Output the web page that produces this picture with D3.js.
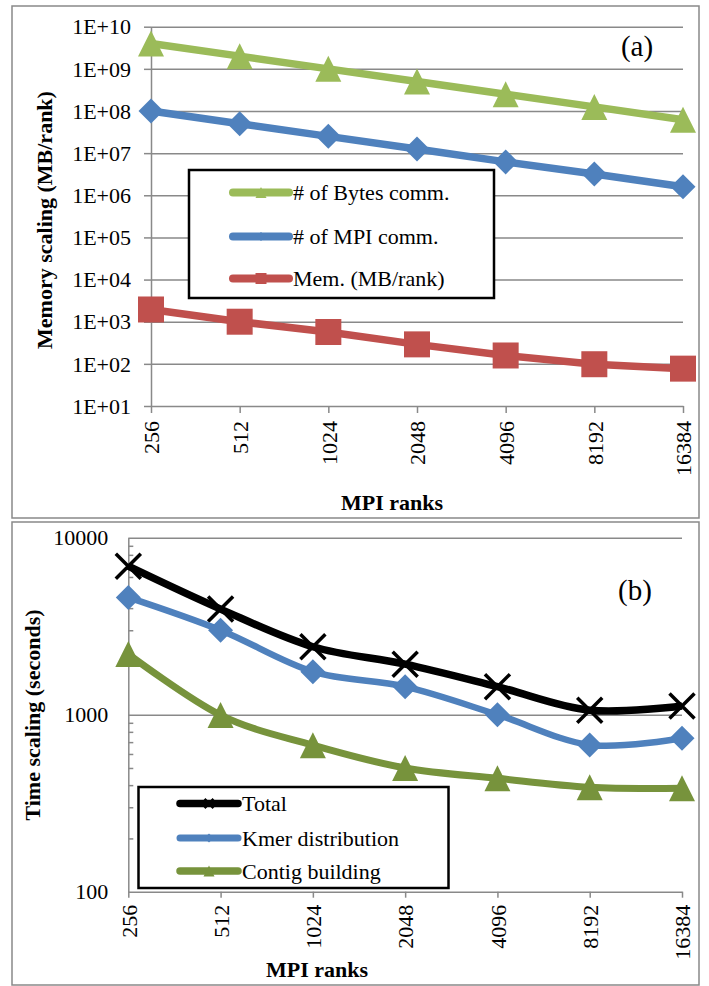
<!DOCTYPE html>
<html>
<head>
<meta charset="utf-8">
<script src="https://cdn.jsdelivr.net/npm/d3@7"></script>
<style>
  body { margin: 0; background: #fff; }
  text { font-family: 'Liberation Serif', 'Times New Roman', serif; fill: #000; }
</style>
</head>
<body>
<script>
// valeurs
const ranks = ["256", "512", "1024", "2048", "4096", "8192", "16384"]

const bytesComm = [4e9, 2e9, 1e9, 5e8, 2.5e8, 1.25e8, 6.2e7]
const mpiComm = [1e8, 5e7, 2.5e7, 1.25e7, 6.2e6, 3.2e6, 1.6e6]
const memPerRank = [1950, 1000, 570, 290, 158, 98, 77]

const totalTime = [6900, 3950, 2420, 1930, 1440, 1060, 1120]
const kmerTime = [4600, 3000, 1750, 1440, 1000, 675, 736]
const contigTime = [2200, 995, 673, 500, 437, 389, 384]

const memTicks = [1e1, 1e2, 1e3, 1e4, 1e5, 1e6, 1e7, 1e8, 1e9, 1e10]
const timeTicks = [100, 1000, 10000]

const seriesA = [
    {name: "# of Bytes comm.", values: bytesComm, color: "#9BBB59", shape: "tri"},
    {name: "# of MPI comm.", values: mpiComm, color: "#4F81BD", shape: "diamond"},
    {name: "Mem. (MB/rank)", values: memPerRank, color: "#C0504D", shape: "square"}
]
const seriesB = [
    {name: "Total", values: totalTime, color: "#000000", shape: "x"},
    {name: "Kmer distribution", values: kmerTime, color: "#4F81BD", shape: "diamond"},
    {name: "Contig building", values: contigTime, color: "#77933C", shape: "tri"}
]

// formes des marqueurs (taille = largeur^2)
const shapes = {
    tri: {draw(c, s) { const r = Math.sqrt(s) / 2; c.moveTo(0, -r); c.lineTo(r, r); c.lineTo(-r, r); c.closePath() }},
    diamond: {draw(c, s) { const r = Math.sqrt(s) / 2; c.moveTo(0, -r); c.lineTo(r, 0); c.lineTo(0, r); c.lineTo(-r, 0); c.closePath() }},
    square: d3.symbolSquare,
    x: {draw(c, s) { const r = Math.sqrt(s) / 2; c.moveTo(-r, -r); c.lineTo(r, r); c.moveTo(-r, r); c.lineTo(r, -r) }}
}
const markSize = {tri: 26 * 26, diamond: 25 * 25, square: 26 * 26, x: 25 * 25}
const legendSize = {tri: 11 * 11, diamond: 9 * 9, square: 11 * 11, x: 9 * 9}

const gray = "#898989"
const svg = d3.select("body").append("svg").attr("width", 709).attr("height", 986)

// cadres des deux panneaux
svg.append("rect").attr("x", 12).attr("y", 6).attr("width", 687).attr("height", 512)
    .attr("fill", "none").attr("stroke", gray).attr("stroke-width", 1.5)
svg.append("rect").attr("x", 12).attr("y", 522).attr("width", 687).attr("height", 463)
    .attr("fill", "none").attr("stroke", gray).attr("stroke-width", 1.5)

function styleAxis(g) {
    g.selectAll(".domain").attr("stroke", gray).attr("stroke-width", 1.5)
    g.selectAll(".tick line").attr("stroke", gray).attr("stroke-width", 1.5)
    g.selectAll("text").style("font-size", "22px").attr("fill", "#000")
}

function rotateLabels(g, off) {
    g.selectAll("text")
        .attr("transform", "rotate(-90)")
        .attr("text-anchor", "end")
        .attr("x", -off)
        .attr("y", 0)
        .attr("dy", "0.35em")
}

function drawSeries(series, x, y, curve, widths) {
    series.forEach((s, k) => {
        const line = d3.line().x((d, i) => x(ranks[i])).y(d => y(d)).curve(curve)
        svg.append("path").attr("d", line(s.values))
            .attr("fill", "none").attr("stroke", s.color)
            .attr("stroke-width", widths[k]).attr("stroke-linejoin", "round")
        svg.append("g").selectAll("path")
            .data(s.values)
            .join("path")
            .attr("transform", (d, i) => `translate(${x(ranks[i])},${y(d)})`)
            .attr("d", d3.symbol().type(shapes[s.shape]).size(markSize[s.shape]))
            .attr("fill", s.shape == "x" ? "none" : s.color)
            .attr("stroke", s.shape == "x" ? s.color : "none")
            .attr("stroke-width", 3.5)
    })
}

function drawLegend(series, box, rows, x0, x1, widths) {
    svg.append("rect").attr("x", box[0]).attr("y", box[1]).attr("width", box[2]).attr("height", box[3])
        .attr("fill", "#fff").attr("stroke", "#000").attr("stroke-width", 2.5)
    series.forEach((s, k) => {
        svg.append("line").attr("x1", x0).attr("x2", x1).attr("y1", rows[k]).attr("y2", rows[k])
            .attr("stroke", s.color).attr("stroke-width", widths[k]).attr("stroke-linecap", "round")
        svg.append("path")
            .attr("transform", `translate(${(x0 + x1) / 2},${rows[k]})`)
            .attr("d", d3.symbol().type(shapes[s.shape]).size(legendSize[s.shape]))
            .attr("fill", s.shape == "x" ? "none" : s.color)
            .attr("stroke", s.shape == "x" ? s.color : "none")
            .attr("stroke-width", 2.5)
        svg.append("text").attr("x", x1 + 4).attr("y", rows[k]).attr("dy", "0.35em")
            .style("font-size", "22px").text(s.name)
    })
}

// ---------- panneau (a) ----------
const xa = d3.scalePoint().domain(ranks).range([151, 683])
const ya = d3.scaleLog().domain([1e1, 1e10]).range([406, 26.7])

svg.append("g").attr("transform", "translate(151,0)")
    .call(d3.axisLeft(ya).tickValues(memTicks.slice(1)).tickSize(-532).tickFormat(""))
    .call(g => g.select(".domain").remove())
    .call(g => g.selectAll("line").attr("stroke", gray).attr("stroke-width", 1.5))

svg.append("g").attr("transform", "translate(151,0)")
    .call(d3.axisLeft(ya).tickValues(memTicks).tickSize(7).tickSizeOuter(0).tickPadding(13)
        .tickFormat(d => "1E+" + String(Math.round(Math.log10(d))).padStart(2, "0")))
    .call(styleAxis)
    .call(g => g.selectAll("text").attr("dy", "0.33em"))

svg.append("g").attr("transform", "translate(0,406)")
    .call(d3.axisBottom(xa).tickSize(7).tickSizeOuter(0))
    .call(styleAxis)
    .call(g => rotateLabels(g, 15))

drawSeries(seriesA, xa, ya, d3.curveLinear, [7.5, 7.5, 7.5])
drawLegend(seriesA, [189, 170, 305, 128], [192.5, 236.5, 278.5], 233, 289, [8, 8, 8])

svg.append("text").attr("transform", "translate(51.5,220) rotate(-90)").attr("text-anchor", "middle")
    .style("font-size", "22px").style("font-weight", "bold").text("Memory scaling (MB/rank)")
svg.append("text").attr("x", 392).attr("y", 510).attr("text-anchor", "middle")
    .style("font-size", "22px").style("font-weight", "bold").text("MPI ranks")
svg.append("text").attr("x", 637).attr("y", 56).attr("text-anchor", "middle")
    .style("font-size", "29px").text("(a)")

// ---------- panneau (b) ----------
const xb = d3.scalePoint().domain(ranks).range([128.3, 682])
const yb = d3.scaleLog().domain([100, 10000]).range([891.7, 537.7])

svg.append("g").attr("transform", "translate(128.3,0)")
    .call(d3.axisLeft(yb).tickValues(timeTicks.slice(1)).tickSize(-553.7).tickFormat(""))
    .call(g => g.select(".domain").remove())
    .call(g => g.selectAll("line").attr("stroke", gray).attr("stroke-width", 1.5))

// petites graduations vers l'intérieur
svg.append("g").attr("transform", "translate(128.3,0)")
    .call(d3.axisRight(yb).tickValues(yb.ticks().filter(d => !timeTicks.includes(d))).tickSize(5).tickFormat(""))
    .call(g => g.select(".domain").remove())
    .call(g => g.selectAll("line").attr("stroke", gray).attr("stroke-width", 1.5))

svg.append("g").attr("transform", "translate(128.3,0)")
    .call(d3.axisLeft(yb).tickValues(timeTicks).tickSize(0).tickSizeOuter(0).tickPadding(20).tickFormat(d3.format("d")))
    .call(styleAxis)
    .call(g => g.selectAll("text").attr("dy", "0.33em"))

svg.append("g").attr("transform", "translate(0,891.7)")
    .call(d3.axisBottom(xb).tickSize(6).tickSizeOuter(0))
    .call(styleAxis)
    .call(g => rotateLabels(g, 13))

drawSeries(seriesB, xb, yb, d3.curveCardinal.tension(0), [7.5, 6.5, 7])
drawLegend(seriesB, [138.5, 787, 310, 101], [803.5, 838, 871], 180, 238, [7.5, 7, 7.5])

svg.append("text").attr("transform", "translate(40,715) rotate(-90)").attr("text-anchor", "middle")
    .style("font-size", "22px").style("font-weight", "bold").text("Time scaling (seconds)")
svg.append("text").attr("x", 317).attr("y", 977).attr("text-anchor", "middle")
    .style("font-size", "22px").style("font-weight", "bold").text("MPI ranks")
svg.append("text").attr("x", 635).attr("y", 600).attr("text-anchor", "middle")
    .style("font-size", "29px").text("(b)")
</script>
</body>
</html>
